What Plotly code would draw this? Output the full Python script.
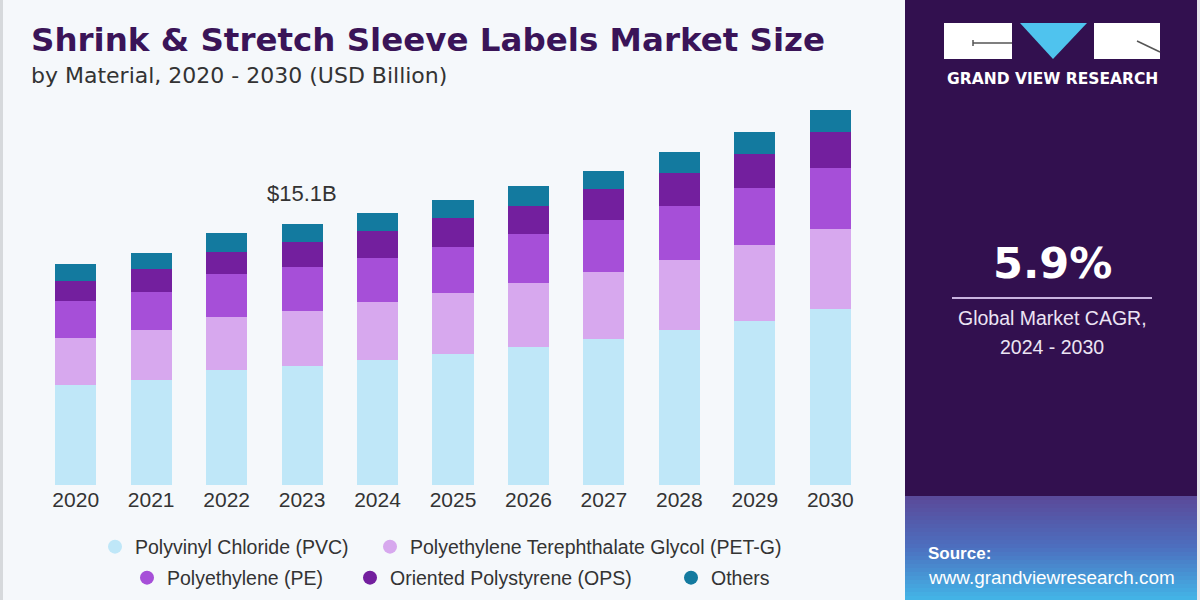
import plotly.graph_objects as go

# ---------------- data ----------------
years = [str(y) for y in range(2020, 2031)]
pvc = [5.79, 6.08, 6.66, 6.91, 7.24, 7.59, 7.98, 8.44, 8.98, 9.52, 10.18]
petg = [2.74, 2.90, 3.09, 3.19, 3.34, 3.52, 3.74, 3.88, 4.06, 4.39, 4.63]
pe = [2.13, 2.18, 2.47, 2.55, 2.58, 2.70, 2.80, 3.03, 3.13, 3.29, 3.53]
ops = [1.16, 1.35, 1.29, 1.45, 1.56, 1.65, 1.64, 1.78, 1.93, 1.97, 2.09]
others = [0.97, 0.91, 1.07, 1.01, 1.01, 1.02, 1.16, 1.08, 1.18, 1.27, 1.29]
series_names = ["Polyvinyl Chloride (PVC)", "Polyethylene Terephthalate Glycol (PET-G)",
                "Polyethylene (PE)", "Oriented Polystyrene (OPS)", "Others"]
series_values = [pvc, petg, pe, ops, others]
colors = ["#bfe7f8", "#d7a8ee", "#a64fd8", "#731f9e", "#137a9f"]
highlight_year = "2023"
highlight_label = "$15.1B"

# ---------------- layout geometry ----------------
W, H = 1200, 600
ML, MR, MT, MB = 38, 332, 100, 115
PW, PH = W - ML - MR, H - MT - MB


def px(x):
    return (x - ML) / PW


def py(y):
    return (H - MB - y) / PH


fig = go.Figure()

for name, vals, col in zip(series_names, series_values, colors):
    fig.add_trace(go.Bar(x=years, y=vals, name=name, marker=dict(color=col, line=dict(width=0)),
                         showlegend=False, hoverinfo="skip"))

# legend entries (circle markers), one legend box per entry
legend_ids = ["legend", "legend2", "legend3", "legend4", "legend5"]
legend_pos = [(115, 547), (390, 547), (147, 578), (370, 578), (691, 578)]
for name, col, lg in zip(series_names, colors, legend_ids):
    fig.add_trace(go.Scatter(x=[None], y=[None], mode="markers", name=name,
                             marker=dict(symbol="circle", size=14, color=col),
                             legend=lg, showlegend=True, hoverinfo="skip"))

totals = [sum(v[i] for v in series_values) for i in range(len(years))]
hi = years.index(highlight_year)

annotations = [
    dict(x=hi, y=totals[hi], xref="x", yref="y", text=highlight_label,
         showarrow=False, yanchor="bottom", yshift=16,
         font=dict(family="Liberation Sans, Arial", size=22, color="#333333")),
    dict(x=px(29), y=py(40), xref="paper", yref="paper", xanchor="left", yanchor="middle",
         text="<b>Shrink & Stretch Sleeve Labels Market Size</b>", showarrow=False,
         font=dict(family="DejaVu Sans", size=32.5, color="#3a1458")),
    dict(x=px(29), y=py(75), xref="paper", yref="paper", xanchor="left", yanchor="middle",
         text="by Material, 2020 - 2030 (USD Billion)", showarrow=False,
         font=dict(family="DejaVu Sans", size=22, color="#333333")),
    dict(x=px(1052), y=py(79), xref="paper", yref="paper", xanchor="center", yanchor="middle",
         text="<b>GRAND VIEW RESEARCH</b>", showarrow=False,
         font=dict(family="DejaVu Sans", size=15.5, color="#ffffff")),
    dict(x=px(1052), y=py(263), xref="paper", yref="paper", xanchor="center", yanchor="middle",
         text="<b>5.9%</b>", showarrow=False,
         font=dict(family="DejaVu Sans", size=43, color="#ffffff")),
    dict(x=px(1052), y=py(318), xref="paper", yref="paper", xanchor="center", yanchor="middle",
         text="Global Market CAGR,", showarrow=False,
         font=dict(family="Liberation Sans, Arial", size=19.5, color="#ece4f4")),
    dict(x=px(1052), y=py(347), xref="paper", yref="paper", xanchor="center", yanchor="middle",
         text="2024 - 2030", showarrow=False,
         font=dict(family="Liberation Sans, Arial", size=19.5, color="#ece4f4")),
    dict(x=px(926), y=py(553), xref="paper", yref="paper", xanchor="left", yanchor="middle",
         text="<b>Source:</b>", showarrow=False,
         font=dict(family="Liberation Sans, Arial", size=17, color="#ffffff")),
    dict(x=px(926), y=py(577), xref="paper", yref="paper", xanchor="left", yanchor="middle",
         text="www.grandviewresearch.com", showarrow=False,
         font=dict(family="Liberation Sans, Arial", size=18.9, color="#ffffff")),
]

shapes = []
# left light background and edge
shapes.append(dict(type="rect", xref="paper", yref="paper", x0=px(0), x1=px(905), y0=py(600), y1=py(0),
                   fillcolor="#f5f8fb", line=dict(width=0), layer="below"))
shapes.append(dict(type="rect", xref="paper", yref="paper", x0=px(0), x1=px(3), y0=py(600), y1=py(0),
                   fillcolor="#d6d9dc", line=dict(width=0), layer="below"))
# right panel
shapes.append(dict(type="rect", xref="paper", yref="paper", x0=px(905), x1=px(1197), y0=py(600), y1=py(0),
                   fillcolor="#32104f", line=dict(width=0), layer="below"))
shapes.append(dict(type="rect", xref="paper", yref="paper", x0=px(1197), x1=px(1200), y0=py(600), y1=py(0),
                   fillcolor="#e6e6ea", line=dict(width=0), layer="below"))


def lerp(c1, c2, t):
    a = [int(c1[i:i + 2], 16) for i in (1, 3, 5)]
    b = [int(c2[i:i + 2], 16) for i in (1, 3, 5)]
    return "#%02x%02x%02x" % tuple(int(round(a[k] + (b[k] - a[k]) * t)) for k in range(3))


stops = ["#5a4a9a", "#4c70bf", "#43b3e6"]
band_top, band_bot, n = 496, 600, 26
step = (band_bot - band_top) / n
for i in range(n):
    t = i / (n - 1)
    c = lerp(stops[0], stops[1], t * 2) if t < 0.5 else lerp(stops[1], stops[2], (t - 0.5) * 2)
    y0 = band_top + i * step
    shapes.append(dict(type="rect", xref="paper", yref="paper", x0=px(905), x1=px(1197),
                       y0=py(y0 + step + 0.5), y1=py(y0), fillcolor=c, line=dict(width=0), layer="below"))

# logo
shapes.append(dict(type="rect", xref="paper", yref="paper", x0=px(944), x1=px(1012), y0=py(59), y1=py(23),
                   fillcolor="#ffffff", line=dict(width=0)))
shapes.append(dict(type="rect", xref="paper", yref="paper", x0=px(1094), x1=px(1160), y0=py(59), y1=py(23),
                   fillcolor="#ffffff", line=dict(width=0)))
shapes.append(dict(type="path", xref="paper", yref="paper",
                   path="M %f %f L %f %f L %f %f Z" % (px(1020), py(23), px(1087), py(23), px(1053), py(59)),
                   fillcolor="#4fc3ee", line=dict(width=0)))
shapes.append(dict(type="line", xref="paper", yref="paper", x0=px(973), x1=px(1012), y0=py(43), y1=py(43),
                   line=dict(color="#555555", width=1.5)))
shapes.append(dict(type="line", xref="paper", yref="paper", x0=px(973), x1=px(973), y0=py(40), y1=py(46),
                   line=dict(color="#555555", width=1.5)))
shapes.append(dict(type="line", xref="paper", yref="paper", x0=px(1137), x1=px(1160), y0=py(41), y1=py(52),
                   line=dict(color="#555555", width=1.5)))
# CAGR divider line
shapes.append(dict(type="line", xref="paper", yref="paper", x0=px(952), x1=px(1152), y0=py(298), y1=py(298),
                   line=dict(color="#c9b3e0", width=2)))

legend_font = dict(family="Liberation Sans, Arial", size=19.5, color="#333333")

layout_legends = {}
for lg, (cx, cy) in zip(legend_ids, legend_pos):
    layout_legends[lg] = dict(orientation="h", x=px(cx - 20), y=py(cy), xanchor="left", yanchor="middle",
                              font=legend_font, bgcolor="rgba(0,0,0,0)", borderwidth=0)

fig.update_layout(
    width=W, height=H,
    margin=dict(l=ML, r=MR, t=MT, b=MB, autoexpand=False),
    paper_bgcolor="#f5f8fb", plot_bgcolor="rgba(0,0,0,0)",
    barmode="stack", bargap=0.455,
    xaxis=dict(type="category", showgrid=False, showline=False, zeroline=False, ticks="",
               tickfont=dict(family="Liberation Sans, Arial", size=21, color="#333333"),
               range=[-0.5, len(years) - 0.5], fixedrange=True, automargin=False),
    yaxis=dict(visible=False, range=[0, 22.3], fixedrange=True),
    annotations=annotations,
    shapes=shapes,
    showlegend=True,
    **layout_legends,
)

fig.write_html("out.html")
